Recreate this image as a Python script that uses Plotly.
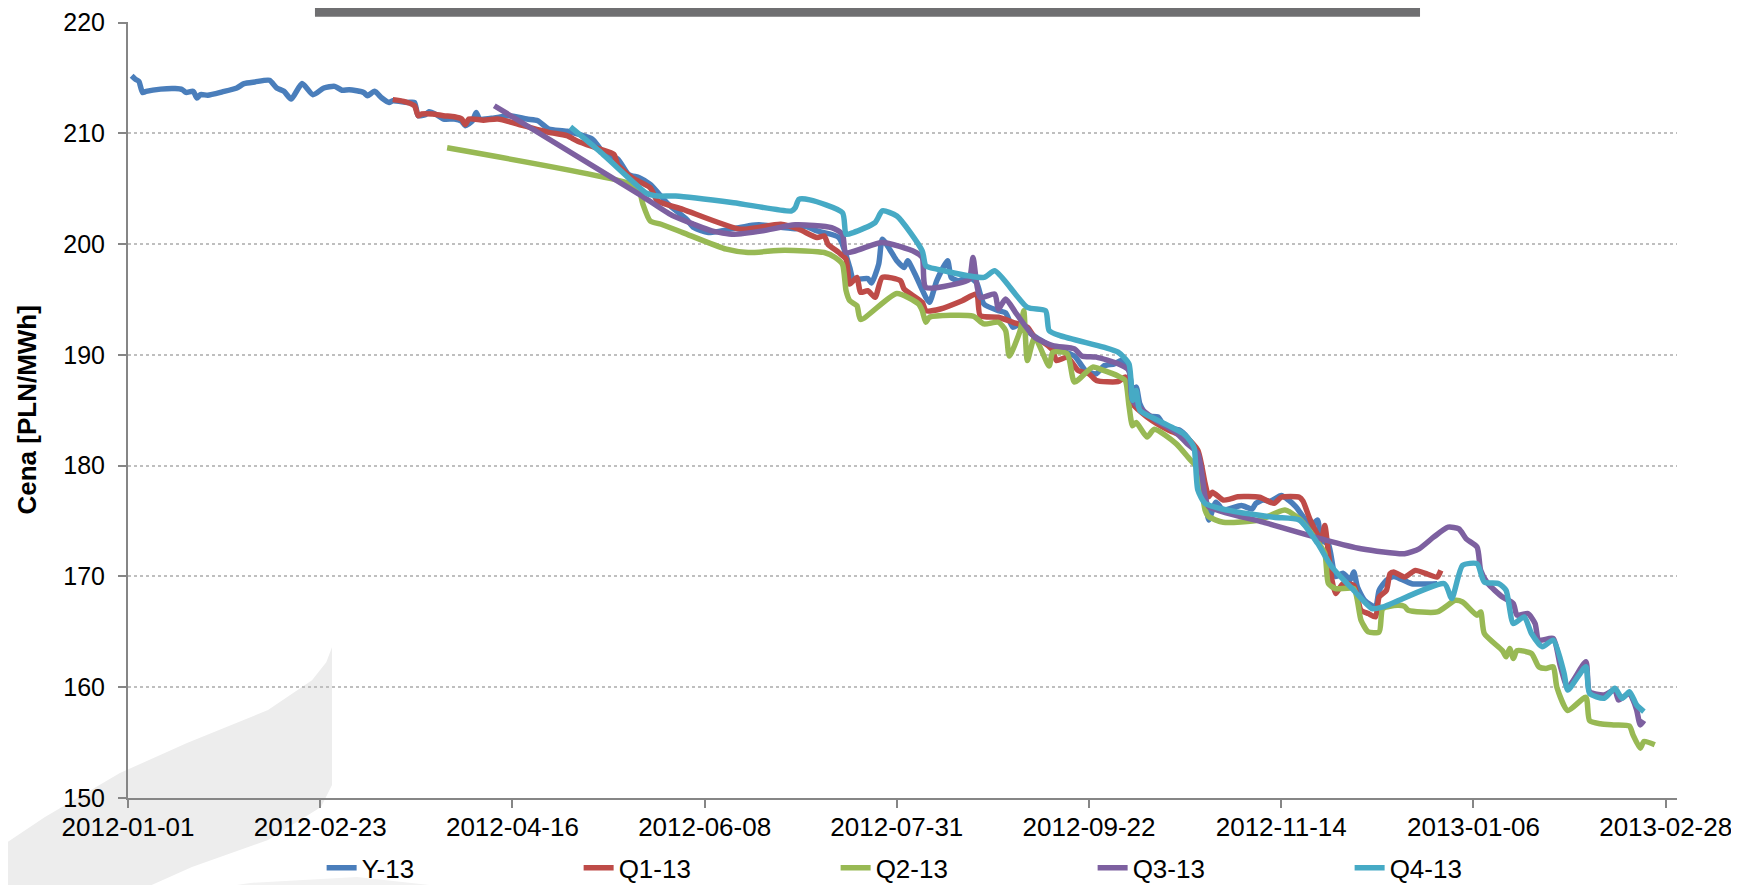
"""Forward prices of Polish baseload contracts (Y-13 and quarterly Q1..Q4-13).

Recreated with plotly; values read off the reference picture.
"""

import plotly.graph_objects as go

# ---------------------------------------------------------------------------
# Data (PLN/MWh)
# ---------------------------------------------------------------------------

y13_dates = [
    "2012-01-02", "2012-01-03", "2012-01-04", "2012-01-05", "2012-01-06", "2012-01-10",
    "2012-01-14", "2012-01-16", "2012-01-17", "2012-01-19", "2012-01-20", "2012-01-21",
    "2012-01-23", "2012-01-27", "2012-01-31", "2012-02-02", "2012-02-05", "2012-02-09",
    "2012-02-11", "2012-02-13", "2012-02-15", "2012-02-18", "2012-02-21", "2012-02-24",
    "2012-02-27", "2012-02-29", "2012-03-02", "2012-03-06", "2012-03-07", "2012-03-09",
    "2012-03-11", "2012-03-13", "2012-03-14", "2012-03-18", "2012-03-20", "2012-03-21",
    "2012-03-23", "2012-03-24", "2012-03-26", "2012-03-28", "2012-03-31", "2012-04-02",
    "2012-04-03", "2012-04-05", "2012-04-06", "2012-04-07", "2012-04-11", "2012-04-15",
    "2012-04-20", "2012-04-23", "2012-04-26", "2012-05-01", "2012-05-08", "2012-05-10",
    "2012-05-12", "2012-05-15", "2012-05-18", "2012-05-21", "2012-05-24", "2012-05-29",
    "2012-06-03", "2012-06-05", "2012-06-09", "2012-06-20", "2012-06-23", "2012-07-03",
    "2012-07-06", "2012-07-09", "2012-07-15", "2012-07-18", "2012-07-19", "2012-07-23",
    "2012-07-24", "2012-07-26", "2012-07-27", "2012-07-29", "2012-07-31", "2012-08-02",
    "2012-08-03", "2012-08-05", "2012-08-08", "2012-08-09", "2012-08-11", "2012-08-14",
    "2012-08-15", "2012-08-17", "2012-08-20", "2012-08-22", "2012-08-24", "2012-08-28",
    "2012-08-30", "2012-09-01", "2012-09-03", "2012-09-06", "2012-09-12", "2012-09-18",
    "2012-09-21", "2012-09-24", "2012-09-26", "2012-09-29", "2012-10-01", "2012-10-03",
    "2012-10-04", "2012-10-05", "2012-10-06", "2012-10-08", "2012-10-11", "2012-10-13",
    "2012-10-17", "2012-10-19", "2012-10-22", "2012-10-23", "2012-10-24", "2012-10-25",
    "2012-10-27", "2012-10-29", "2012-11-03", "2012-11-06", "2012-11-07", "2012-11-09",
    "2012-11-11", "2012-11-14", "2012-11-16", "2012-11-18", "2012-11-20", "2012-11-22",
    "2012-11-24", "2012-11-25", "2012-11-27", "2012-11-29", "2012-12-01", "2012-12-03",
    "2012-12-04", "2012-12-05", "2012-12-07", "2012-12-10", "2012-12-11", "2012-12-13",
    "2012-12-15", "2012-12-20", "2012-12-27",
]
y13_values = [
    215.2, 214.9, 214.7, 213.7, 213.8, 214.0,
    214.05, 213.95, 213.7, 213.8, 213.2, 213.5,
    213.45, 213.75, 214.1, 214.5, 214.65, 214.8,
    214.1, 213.8, 213.1, 214.5, 213.5, 214.1,
    214.25, 213.9, 213.95, 213.7, 213.4, 213.8,
    213.2, 212.8, 212.95, 212.8, 212.8, 211.6,
    211.7, 211.95, 211.7, 211.3, 211.3, 211.1,
    210.7, 211.15, 211.9, 211.3, 211.4, 211.6,
    211.3, 211.15, 210.4, 210.2, 209.5, 208.7,
    208.0, 207.7, 206.3, 206.0, 205.4, 203.6,
    202.25, 201.5, 201.05, 201.65, 201.75, 201.4,
    201.6, 201.2, 200.6, 197.9, 196.85, 196.9,
    196.5, 198.2, 200.45, 199.55, 198.5, 197.9,
    198.5, 197.3, 195.2, 194.75, 196.7, 198.5,
    197.0, 196.7, 197.0, 196.5, 194.6, 194.0,
    193.8, 192.5, 192.8, 191.9, 190.7, 189.9,
    188.6, 188.3, 189.0, 189.2, 189.5, 188.6,
    186.8, 187.1, 185.6, 184.5, 184.4, 183.5,
    183.2, 182.6, 181.1, 179.6, 177.5, 175.1,
    176.7, 176.0, 176.4, 176.1, 176.6, 176.9,
    176.8, 177.3, 176.9, 176.3, 175.4, 174.5,
    175.1, 173.3, 172.9, 170.0, 170.3, 169.7,
    170.4, 169.05, 167.85, 167.25, 168.75, 169.65,
    170.0, 169.35, 169.35,
]

q1_dates = [
    "2012-03-14", "2012-03-17", "2012-03-20", "2012-03-21", "2012-03-22", "2012-03-25",
    "2012-03-28", "2012-03-31", "2012-04-02", "2012-04-03", "2012-04-04", "2012-04-08",
    "2012-04-12", "2012-04-19", "2012-04-26", "2012-05-01", "2012-05-04", "2012-05-10",
    "2012-05-14", "2012-05-15", "2012-05-19", "2012-05-24", "2012-05-26", "2012-06-02",
    "2012-06-18", "2012-06-29", "2012-07-04", "2012-07-09", "2012-07-11", "2012-07-12",
    "2012-07-15", "2012-07-17", "2012-07-18", "2012-07-20", "2012-07-21", "2012-07-23",
    "2012-07-25", "2012-07-27", "2012-08-01", "2012-08-02", "2012-08-07", "2012-08-08",
    "2012-08-12", "2012-08-18", "2012-08-22", "2012-08-23", "2012-08-28", "2012-09-01",
    "2012-09-05", "2012-09-07", "2012-09-10", "2012-09-12", "2012-09-13", "2012-09-16",
    "2012-09-19", "2012-09-22", "2012-09-24", "2012-09-30", "2012-10-02", "2012-10-04",
    "2012-10-08", "2012-10-14", "2012-10-19", "2012-10-22", "2012-10-24", "2012-10-25",
    "2012-10-26", "2012-10-29", "2012-10-31", "2012-11-02", "2012-11-08", "2012-11-12",
    "2012-11-14", "2012-11-19", "2012-11-20", "2012-11-22", "2012-11-25", "2012-11-26",
    "2012-11-27", "2012-11-28", "2012-11-29", "2012-12-01", "2012-12-04", "2012-12-06",
    "2012-12-08", "2012-12-10", "2012-12-11", "2012-12-13", "2012-12-14", "2012-12-15",
    "2012-12-18", "2012-12-21", "2012-12-24", "2012-12-27", "2012-12-28",
]
q1_values = [
    213.05, 212.9, 212.5, 211.6, 211.75, 211.75,
    211.6, 211.5, 211.3, 210.8, 211.3, 211.2,
    211.3, 210.7, 210.1, 209.8, 209.3, 208.6,
    208.1, 207.2, 206.0, 205.1, 203.9, 203.15,
    201.35, 201.8, 201.35, 200.6, 200.75, 200.0,
    199.25, 198.65, 196.4, 197.0, 195.65, 195.8,
    195.2, 197.0, 196.7, 195.95, 194.75, 194.0,
    194.15, 194.9, 195.5, 193.55, 193.4, 192.95,
    192.5, 191.6, 191.0, 190.4, 189.5, 189.8,
    188.6, 188.3, 187.7, 187.6, 188.0, 185.6,
    184.4, 183.2, 182.5, 181.4, 178.4, 177.2,
    177.6, 176.9, 177.0, 177.2, 177.15, 176.6,
    177.15, 177.15, 176.8, 175.1, 173.3, 174.6,
    172.1, 169.65, 168.45, 169.35, 169.2, 166.95,
    166.65, 166.35, 168.15, 168.75, 170.25, 170.4,
    169.95, 170.55, 170.25, 169.95, 170.55,
]

q2_dates = [
    "2012-03-29", "2012-05-19", "2012-05-21", "2012-05-22", "2012-05-24", "2012-05-27",
    "2012-06-02", "2012-06-14", "2012-06-20", "2012-06-30", "2012-07-11", "2012-07-14",
    "2012-07-16", "2012-07-17", "2012-07-18", "2012-07-20", "2012-07-21", "2012-07-31",
    "2012-08-06", "2012-08-07", "2012-08-08", "2012-08-09", "2012-08-21", "2012-08-24",
    "2012-08-28", "2012-08-30", "2012-08-31", "2012-09-03", "2012-09-04", "2012-09-05",
    "2012-09-07", "2012-09-11", "2012-09-12", "2012-09-16", "2012-09-18", "2012-09-23",
    "2012-09-26", "2012-09-30", "2012-10-02", "2012-10-03", "2012-10-04", "2012-10-05",
    "2012-10-08", "2012-10-10", "2012-10-16", "2012-10-20", "2012-10-22", "2012-10-24",
    "2012-10-25", "2012-10-29", "2012-11-08", "2012-11-15", "2012-11-19", "2012-11-23",
    "2012-11-26", "2012-11-27", "2012-11-29", "2012-12-04", "2012-12-06", "2012-12-08",
    "2012-12-11", "2012-12-12", "2012-12-16", "2012-12-18", "2012-12-19", "2012-12-27",
    "2013-01-01", "2013-01-03", "2013-01-07", "2013-01-08", "2013-01-09", "2013-01-14",
    "2013-01-15", "2013-01-16", "2013-01-17", "2013-01-18", "2013-01-22", "2013-01-24",
    "2013-01-26", "2013-01-28", "2013-01-29", "2013-02-01", "2013-02-06", "2013-02-07",
    "2013-02-10", "2013-02-14", "2013-02-18", "2013-02-19", "2013-02-21", "2013-02-22",
    "2013-02-25",
]
q2_values = [
    208.7, 205.4, 204.8, 203.6, 202.1, 201.8,
    201.05, 199.55, 199.25, 199.45, 199.25, 198.8,
    198.2, 195.8, 194.9, 194.45, 193.2, 195.55,
    194.6, 194.0, 192.95, 193.4, 193.5, 192.8,
    192.95, 192.2, 189.9, 192.2, 194.0, 189.5,
    191.6, 189.0, 190.25, 190.1, 187.55, 188.9,
    188.6, 188.1, 187.7, 185.45, 183.6, 183.9,
    182.6, 183.3, 182.0, 180.5, 179.8, 176.0,
    175.4, 174.9, 175.1, 176.0, 175.2, 173.6,
    172.1, 169.35, 168.9, 168.9, 166.05, 165.0,
    165.0, 167.1, 167.4, 167.3, 166.95, 166.8,
    167.85, 167.7, 166.5, 166.8, 164.85, 163.3,
    162.75, 163.5, 162.6, 163.3, 163.05, 161.85,
    161.7, 161.85, 160.0, 157.9, 159.1, 157.0,
    156.7, 156.6, 156.5, 155.7, 154.5, 155.1,
    154.8,
]

q3_dates = [
    "2012-04-11", "2012-05-21", "2012-05-30", "2012-06-05", "2012-06-10", "2012-06-16",
    "2012-06-24", "2012-07-03", "2012-07-13", "2012-07-16", "2012-07-17", "2012-07-27",
    "2012-08-05", "2012-08-07", "2012-08-08", "2012-08-18", "2012-08-20", "2012-08-21",
    "2012-08-23", "2012-08-27", "2012-08-28", "2012-08-30", "2012-09-02", "2012-09-07",
    "2012-09-12", "2012-09-18", "2012-09-20", "2012-09-24", "2012-09-30", "2012-10-03",
    "2012-10-04", "2012-10-10", "2012-10-16", "2012-10-19", "2012-10-22", "2012-10-24",
    "2012-10-25", "2012-11-09", "2012-11-26", "2012-12-06", "2012-12-18", "2012-12-22",
    "2012-12-26", "2012-12-30", "2013-01-02", "2013-01-04", "2013-01-07", "2013-01-08",
    "2013-01-10", "2013-01-14", "2013-01-17", "2013-01-18", "2013-01-21", "2013-01-23",
    "2013-01-24", "2013-01-28", "2013-01-30", "2013-02-01", "2013-02-06", "2013-02-07",
    "2013-02-11", "2013-02-14", "2013-02-15", "2013-02-18", "2013-02-19", "2013-02-20",
    "2013-02-21", "2013-02-22",
]
q3_values = [
    212.5, 204.5, 202.6, 201.8, 201.2, 200.9,
    201.2, 201.75, 201.5, 200.9, 199.25, 200.15,
    199.3, 198.8, 196.1, 196.55, 196.85, 198.8,
    195.2, 195.5, 194.15, 195.05, 193.7, 191.6,
    190.85, 190.55, 189.9, 189.8, 189.2, 188.6,
    185.9, 184.2, 183.0, 182.0, 181.1, 177.2,
    176.3, 174.9, 173.3, 172.5, 172.05, 172.5,
    173.55, 174.45, 174.3, 173.4, 172.65, 170.55,
    169.35, 168.15, 167.55, 166.5, 166.65, 165.75,
    164.25, 164.4, 161.85, 160.0, 162.3, 159.6,
    159.3, 159.75, 158.85, 159.45, 158.85, 157.95,
    156.6, 157.0,
]

q4_dates = [
    "2012-05-02", "2012-05-10", "2012-05-19", "2012-05-23", "2012-05-26", "2012-05-31",
    "2012-06-16", "2012-07-02", "2012-07-03", "2012-07-04", "2012-07-07", "2012-07-16",
    "2012-07-17", "2012-07-19", "2012-07-25", "2012-07-27", "2012-07-31", "2012-08-07",
    "2012-08-08", "2012-08-11", "2012-08-24", "2012-08-27", "2012-09-05", "2012-09-10",
    "2012-09-11", "2012-09-14", "2012-09-26", "2012-09-30", "2012-10-03", "2012-10-04",
    "2012-10-05", "2012-10-06", "2012-10-11", "2012-10-18", "2012-10-20", "2012-10-21",
    "2012-10-22", "2012-10-24", "2012-10-30", "2012-11-12", "2012-11-19", "2012-11-24",
    "2012-11-28", "2012-12-04", "2012-12-09", "2012-12-12", "2012-12-29", "2012-12-31",
    "2013-01-03", "2013-01-07", "2013-01-09", "2013-01-13", "2013-01-15", "2013-01-17",
    "2013-01-20", "2013-01-22", "2013-01-25", "2013-01-28", "2013-01-31", "2013-02-01",
    "2013-02-06", "2013-02-07", "2013-02-11", "2013-02-14", "2013-02-16", "2013-02-18",
    "2013-02-20", "2013-02-22",
]
q4_values = [
    210.6, 208.4, 205.7, 204.6, 204.35, 204.35,
    203.75, 203.0, 203.3, 204.05, 204.0, 202.85,
    200.9, 201.05, 201.95, 203.0, 202.55, 199.4,
    198.05, 197.75, 197.0, 197.6, 194.3, 194.0,
    192.2, 191.75, 190.7, 190.25, 189.2, 185.9,
    186.8, 185.0, 184.1, 182.9, 182.2, 181.6,
    177.8, 176.6, 176.0, 175.35, 175.1, 173.0,
    170.85, 168.75, 167.1, 167.25, 169.35, 168.0,
    171.0, 171.15, 169.5, 169.35, 168.75, 165.75,
    166.35, 164.85, 163.65, 164.25, 161.25, 159.75,
    161.85, 159.45, 159.0, 159.9, 159.0, 159.6,
    158.4, 157.8,
]

series_names = ["Y-13", "Q1-13", "Q2-13", "Q3-13", "Q4-13"]
series_dates = [y13_dates, q1_dates, q2_dates, q3_dates, q4_dates]
series_values = [y13_values, q1_values, q2_values, q3_values, q4_values]

# Excel 2007 line palette
COLOURS = ["#4A7EBB", "#BE4B48", "#98B954", "#7D60A0", "#46AAC5"]

FONT = "Liberation Sans, Arial, sans-serif"
AXIS_GREY = "#868686"

# ---------------------------------------------------------------------------
# Figure
# ---------------------------------------------------------------------------

fig = go.Figure()

for name, dates, values, colour in zip(series_names, series_dates, series_values, COLOURS):
    fig.add_trace(
        go.Scatter(
            x=dates,
            y=values,
            mode="lines",
            name=name,
            line=dict(color=colour, width=5.5, shape="spline", smoothing=0.6),
        )
    )

# the page adds an 8 px body margin, so the figure is 16 px smaller than the window
fig.update_layout(
    width=1723,
    height=877,
    margin=dict(l=119.5, r=54, t=13.5, b=87, autoexpand=False),
    paper_bgcolor="white",
    plot_bgcolor="rgba(0,0,0,0)",
    font=dict(family=FONT, size=25, color="black"),
    showlegend=True,
    legend=dict(
        orientation="h",
        x=0.125,
        xanchor="left",
        y=-0.09,
        yanchor="middle",
        entrywidth=212,
        entrywidthmode="pixels",
        font=dict(size=26),
        bgcolor="rgba(0,0,0,0)",
    ),
)

fig.update_xaxes(
    type="date",
    range=["2012-01-01", "2013-03-03 03:00"],
    tick0="2012-01-01",
    dtick=53 * 86400000,
    tickformat="%Y-%m-%d",
    tickfont=dict(size=26),
    ticklabeloverflow="allow",
    showgrid=False,
    showline=True,
    linecolor=AXIS_GREY,
    linewidth=2,
    ticks="outside",
    ticklen=8,
    tickwidth=2,
    tickcolor=AXIS_GREY,
    ticklabelstandoff=-3,
    zeroline=False,
)

fig.update_yaxes(
    range=[150, 220.06],
    tick0=150,
    dtick=10,
    tickfont=dict(size=25),
    ticklabeloverflow="allow",
    showgrid=True,
    gridcolor="#BFBFBF",
    gridwidth=1.5,
    griddash="dot",
    showline=True,
    linecolor=AXIS_GREY,
    linewidth=2,
    ticks="outside",
    ticklen=8,
    tickwidth=2,
    tickcolor=AXIS_GREY,
    ticklabelstandoff=8,
    zeroline=False,
)

# y-axis title placed like the Excel one
fig.add_annotation(
    text="<b>Cena [PLN/MWh]</b>",
    xref="paper",
    yref="paper",
    x=-0.0655,
    xanchor="center",
    y=0.5,
    yanchor="middle",
    textangle=-90,
    showarrow=False,
    font=dict(size=26),
)

# dark title strip cut by the top edge
fig.add_shape(
    type="rect",
    xref="paper",
    yref="paper",
    x0=0.1207,
    x1=0.8341,
    y0=1.0068,
    y1=1.2,
    fillcolor="#6F6F71",
    line_width=0,
    layer="above",
)

# faint logo swoosh in the lower-left corner
fig.add_shape(
    type="path",
    xref="paper",
    yref="paper",
    path=(
        "M 0.1317,0.1943 L 0.1317,0.0167 L 0.1246,-0.0116 L 0.0904,-0.0541 "
        "L 0.0413,-0.0888 L 0.0039,-0.1223 L -0.0826,-0.1223 L -0.0826,-0.0631 "
        "L -0.0536,-0.0245 L -0.0052,0.0322 L 0.0381,0.0708 L 0.0904,0.1133 "
        "L 0.1188,0.1519 L 0.1280,0.1750 Z"
    ),
    fillcolor="#EDEDED",
    line_width=0,
    layer="below",
)
fig.add_shape(
    type="path",
    xref="paper",
    yref="paper",
    path=(
        "M 0.0379,-0.1223 L 0.0788,-0.1094 L 0.1478,-0.1017 "
        "L 0.2053,-0.1145 L 0.2079,-0.1223 Z"
    ),
    fillcolor="#F2F2F2",
    line_width=0,
    layer="below",
)

fig.write_html("out.html")
